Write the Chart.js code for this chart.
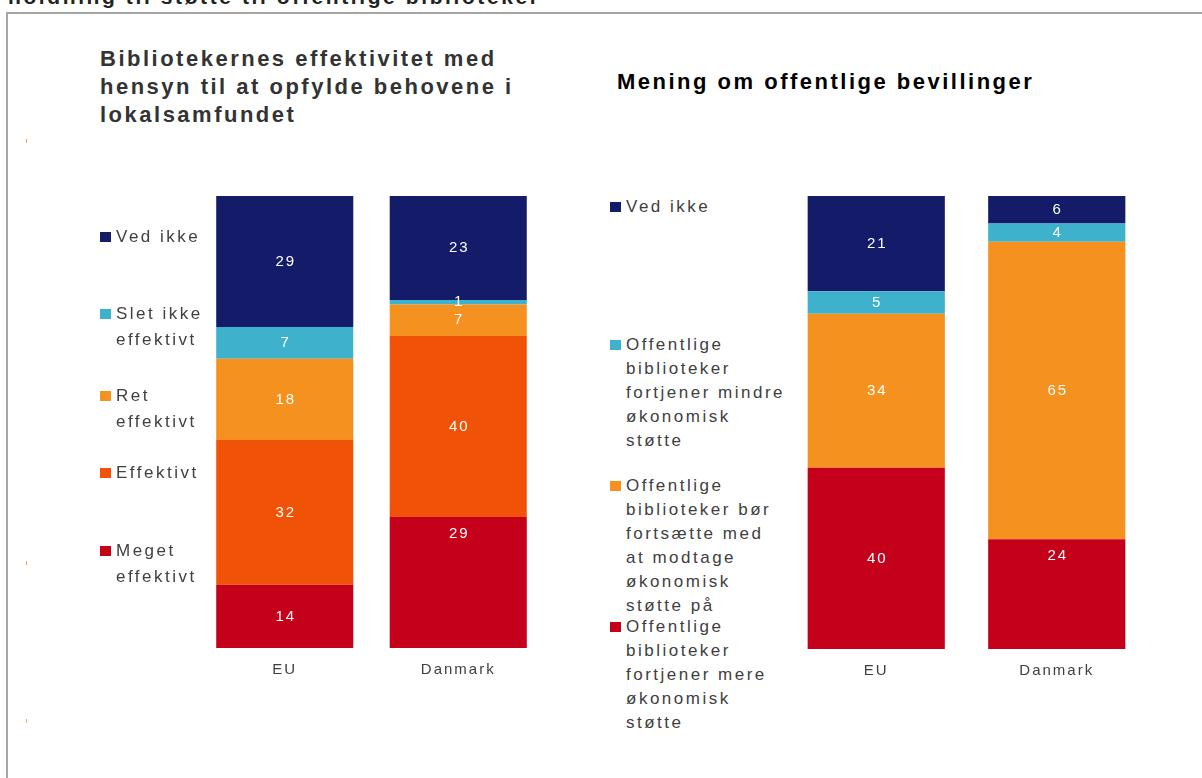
<!DOCTYPE html>
<html lang="da">
<head>
<meta charset="utf-8">
<script src="https://cdn.jsdelivr.net/npm/chart.js@4.4.1/dist/chart.umd.min.js"></script>
<style>
    html, body { margin: 0; padding: 0; background: #fff; }
    body { width: 1202px; height: 778px; position: relative; overflow: hidden; font-family: "Liberation Sans", Arial, sans-serif; }
    .frame { position: absolute; left: 6px; top: 12px; width: 1300px; height: 900px; border: 2px solid #a6a6a6; box-sizing: border-box; }
    .toptitle { position: absolute; left: 8px; top: -14px; font-size: 21px; line-height: 21px; font-weight: bold; letter-spacing: 2.6px; color: #222; white-space: nowrap; }
    .title { position: absolute; font-size: 22px; line-height: 28px; font-weight: bold; letter-spacing: 2.5px; white-space: nowrap; }
    .box { position: absolute; }
    .legend-item { position: absolute; color: #404040; font-size: 17px; letter-spacing: 2.5px; white-space: pre; }
    .legend-item .sw { position: absolute; width: 11px; height: 10px; }
    .tick { position: absolute; left: 26px; width: 1px; height: 4px; background: #f5a060; }
</style>
</head>
<body>
<div class="frame"></div>
<div class="toptitle">holdning til støtte til offentlige biblioteker</div>

<div class="title" style="left:100px; top:45px; color:#333;">Bibliotekernes effektivitet med<br>hensyn til at opfylde behovene i<br>lokalsamfundet</div>
<div class="title" style="left:617px; top:68px; color:#000;">Mening om offentlige bevillinger</div>

<div class="tick" style="top:139px"></div>
<div class="tick" style="top:561px"></div>
<div class="tick" style="top:719px"></div>

<div class="box" id="boxEff" style="left:198px; top:196px; width:347px; height:496px;"><canvas id="chartEff"></canvas></div>
<div class="box" id="boxBev" style="left:786px; top:196px; width:361px; height:497px;"><canvas id="chartBev"></canvas></div>

<div id="legendEff"></div>
<div id="legendBev"></div>

<script>
// kategorier
const categories = ['EU', 'Danmark'];

// Bibliotekernes effektivitet (nederst -> øverst)
const effSeries = ['Meget effektivt', 'Effektivt', 'Ret effektivt', 'Slet ikke effektivt', 'Ved ikke'];
const effMeget = [14, 29];
const effEffektivt = [32, 40];
const effRet = [18, 7];
const effSletIkke = [7, 1];
const effVedIkke = [29, 23];

// Mening om offentlige bevillinger (nederst -> øverst)
const bevSeries = [
    'Offentlige biblioteker fortjener mere økonomisk støtte',
    'Offentlige biblioteker bør fortsætte med at modtage økonomisk støtte på',
    'Offentlige biblioteker fortjener mindre økonomisk støtte',
    'Ved ikke'
];
const bevMere = [40, 24];
const bevFortsaet = [34, 65];
const bevMindre = [5, 4];
const bevVedIkke = [21, 6];

// farver
const NAVY = '#141b69';
const CYAN = '#3eb1cd';
const LIGHT_ORANGE = '#f5911f';
const ORANGE = '#f05307';
const RED = '#c5001a';

// legend-opsætning (linjeskift og placering)
const effLegend = [
    { lines: ['Ved ikke'], color: NAVY, top: 237 },
    { lines: ['Slet ikke', 'effektivt'], color: CYAN, top: 314 },
    { lines: ['Ret', 'effektivt'], color: LIGHT_ORANGE, top: 396 },
    { lines: ['Effektivt'], color: ORANGE, top: 473 },
    { lines: ['Meget', 'effektivt'], color: RED, top: 551 }
];
const bevLegend = [
    { lines: ['Ved ikke'], color: NAVY, top: 207 },
    { lines: ['Offentlige', 'biblioteker', 'fortjener mindre', 'økonomisk', 'støtte'], color: CYAN, top: 345 },
    { lines: ['Offentlige', 'biblioteker bør', 'fortsætte med', 'at modtage', 'økonomisk', 'støtte på'], color: LIGHT_ORANGE, top: 486 },
    { lines: ['Offentlige', 'biblioteker', 'fortjener mere', 'økonomisk', 'støtte'], color: RED, top: 627 }
];

function buildLegend(containerId, items, left, lineHeight) {
    const container = document.getElementById(containerId);
    items.forEach(function (item) {
        const div = document.createElement('div');
        div.className = 'legend-item';
        div.style.left = (left + 16) + 'px';
        div.style.top = (item.top - lineHeight / 2) + 'px';
        div.style.lineHeight = lineHeight + 'px';
        div.textContent = item.lines.join('\n');
        const sw = document.createElement('span');
        sw.className = 'sw';
        sw.style.background = item.color;
        sw.style.left = '-16px';
        sw.style.top = (lineHeight / 2 - 5) + 'px';
        div.appendChild(sw);
        container.appendChild(div);
    });
}
buildLegend('legendEff', effLegend, 100, 26);
buildLegend('legendBev', bevLegend, 610, 24);

// 100 % stablet: hver søjle skaleres til 100
function toShare(all, series) {
    return series.map(function (v, i) {
        const total = all.reduce(function (s, arr) { return s + arr[i]; }, 0);
        return v / total * 100;
    });
}

function makeDatasets(names, seriesList, colors) {
    return seriesList.map(function (values, k) {
        return {
            label: names[k],
            data: toShare(seriesList, values),
            raw: values,
            backgroundColor: colors[k],
            borderWidth: 0
        };
    });
}

// værdier i søjlerne
const valueLabels = {
    id: 'valueLabels',
    beforeDraw: function (chart) {
        chart.ctx.letterSpacing = '2px';
    },
    afterDatasetsDraw: function (chart, args, opts) {
        const ctx = chart.ctx;
        ctx.save();
        ctx.letterSpacing = '2px';
        ctx.font = '15px "Liberation Sans", Arial, sans-serif';
        ctx.fillStyle = '#ffffff';
        ctx.textAlign = 'center';
        ctx.textBaseline = 'middle';
        chart.data.datasets.forEach(function (ds, di) {
            const meta = chart.getDatasetMeta(di);
            meta.data.forEach(function (bar, i) {
                const p = bar.getProps(['x', 'y', 'base'], true);
                let y = (p.y + p.base) / 2;
                if ((opts.insideEnd || []).indexOf(di + ':' + i) >= 0) {
                    y = p.y + 17;
                }
                ctx.fillText(String(ds.raw[i]), p.x + 1, y);
            });
        });
        ctx.restore();
    }
};

function makeChart(canvasId, datasets, barPct, insideEnd) {
    return new Chart(document.getElementById(canvasId).getContext('2d'), {
        type: 'bar',
        data: { labels: categories, datasets: datasets },
        options: {
            responsive: true,
            maintainAspectRatio: false,
            animation: false,
            layout: { padding: 0 },
            plugins: {
                legend: { display: false },
                tooltip: { enabled: false },
                valueLabels: { insideEnd: insideEnd }
            },
            scales: {
                x: {
                    stacked: true,
                    grid: { display: false, drawTicks: false },
                    border: { display: false },
                    ticks: {
                        color: '#404040',
                        padding: 13,
                        font: { family: '"Liberation Sans", Arial, sans-serif', size: 15 }
                    }
                },
                y: {
                    stacked: true,
                    display: false,
                    min: 0,
                    max: 100
                }
            },
            datasets: {
                bar: { categoryPercentage: 1, barPercentage: barPct }
            }
        },
        plugins: [valueLabels]
    });
}

makeChart('chartEff',
    makeDatasets(effSeries, [effMeget, effEffektivt, effRet, effSletIkke, effVedIkke], [RED, ORANGE, LIGHT_ORANGE, CYAN, NAVY]),
    0.79, ['0:1']);

makeChart('chartBev',
    makeDatasets(bevSeries, [bevMere, bevFortsaet, bevMindre, bevVedIkke], [RED, LIGHT_ORANGE, CYAN, NAVY]),
    0.76, ['0:1']);
</script>
</body>
</html>
